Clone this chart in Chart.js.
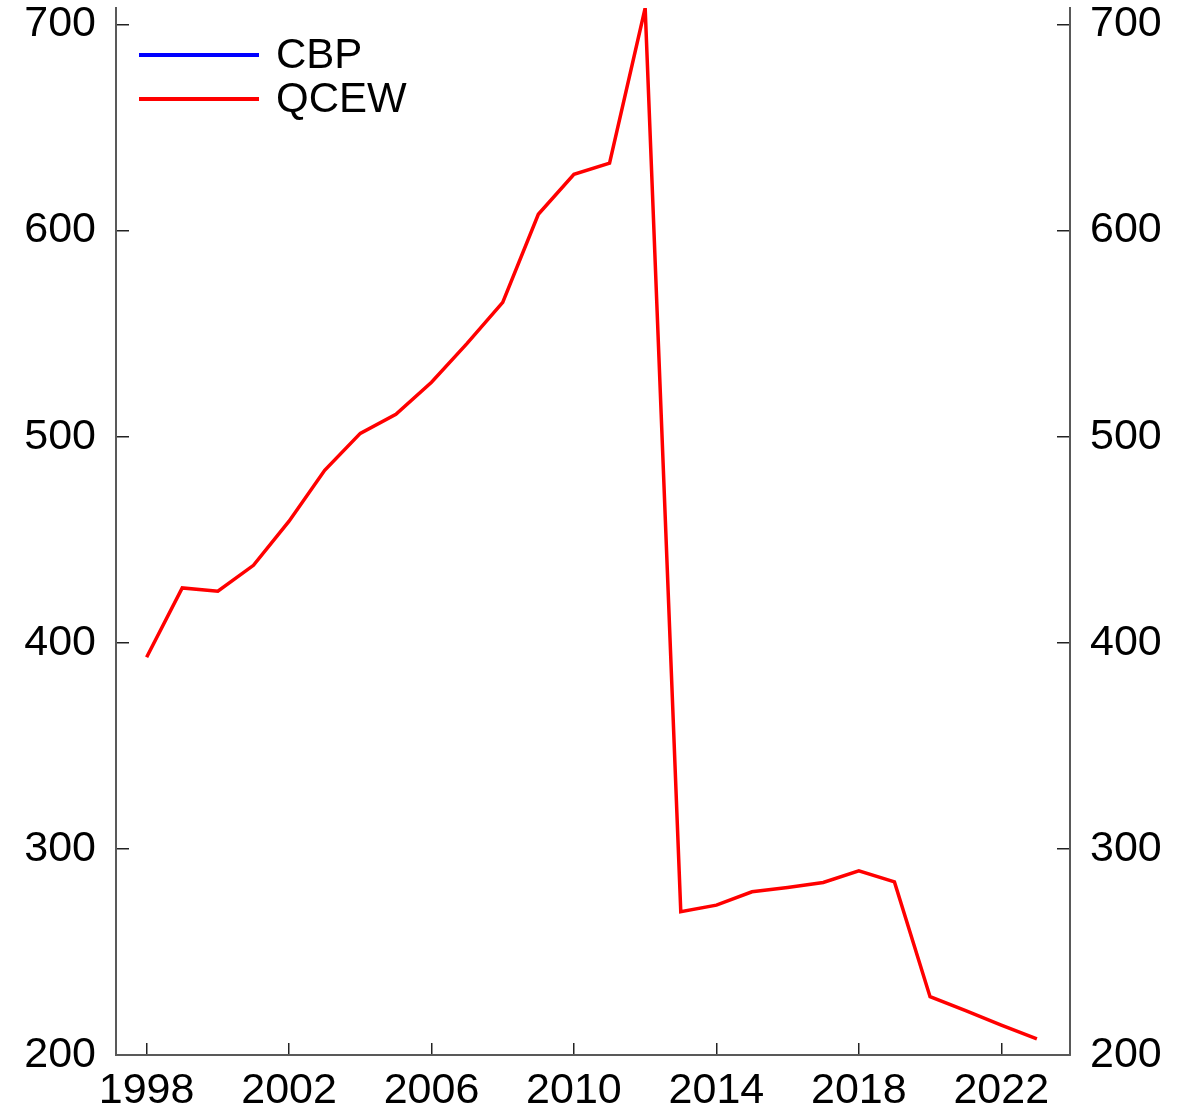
<!DOCTYPE html>
<html>
<head>
<meta charset="utf-8">
<script src="https://cdn.jsdelivr.net/npm/chart.js@4.4.1/dist/chart.umd.min.js"></script>
<style>
  html, body { margin: 0; padding: 0; background: #fff; }
  #wrap { width: 1191px; height: 1116px; }
</style>
</head>
<body>
<div id="wrap"><canvas id="chart" width="1191" height="1116"></canvas></div>
<script>
// years and values
const years = [1998, 1999, 2000, 2001, 2002, 2003, 2004, 2005, 2006, 2007, 2008, 2009, 2010,
               2011, 2012, 2013, 2014, 2015, 2016, 2017, 2018, 2019, 2020, 2021, 2022, 2023];
const qcew = [393, 426.6, 425, 437.6, 459, 483.7, 501.6, 510.9, 526.4, 545.3, 565.2, 607.9, 627.3,
              632.7, 708, 269.5, 272.7, 279.2, 281.3, 283.7, 289.4, 284, 228.3, 221.5, 214.5, 207.8];
// CBP is in the legend but no line shows in the picture
const cbp = years.map(() => null);
const xTicks = [1998, 2002, 2006, 2010, 2014, 2018, 2022];
const yTicks = [200, 300, 400, 500, 600, 700];

const toPoints = vals => years.map((y, i) => ({ x: y, y: vals[i] }));

const fontFamily = "'Liberation Sans', Arial, sans-serif";
const axisColor = '#595959';

function yAxis(position, width) {
    return {
        type: 'linear',
        position: position,
        min: 200,
        max: 708,
        afterBuildTicks: scale => { scale.ticks = yTicks.map(v => ({ value: v })); },
        afterFit: scale => {
            scale.width = width;
            // let the plot reach the top, the labels may stick out
            scale.paddingTop = 0;
            scale.paddingBottom = 0;
        },
        border: { display: true, color: axisColor, width: 2 },
        grid: { drawOnChartArea: false, drawTicks: true, tickLength: -13, color: '#222', lineWidth: 1.5 },
        ticks: { color: '#000', font: { family: fontFamily, size: 43 }, padding: 33 }
    };
}

// legend in the top-left corner of the plot, lines then labels
const cornerLegend = {
    id: 'cornerLegend',
    afterDraw(chart) {
        const ctx = chart.ctx;
        const area = chart.chartArea;
        ctx.save();
        ctx.font = '42px ' + fontFamily;
        ctx.textBaseline = 'middle';
        ctx.fillStyle = '#000';
        chart.data.datasets.forEach((ds, i) => {
            const y = area.top + 47 + i * 44;
            ctx.strokeStyle = ds.borderColor;
            ctx.lineWidth = 4;
            ctx.beginPath();
            ctx.moveTo(area.left + 23, y);
            ctx.lineTo(area.left + 143, y);
            ctx.stroke();
            ctx.fillText(ds.label, area.left + 160, y + 1);
        });
        ctx.restore();
    }
};

new Chart(document.getElementById('chart'), {
    type: 'line',
    data: {
        datasets: [
            { label: 'CBP', data: toPoints(cbp), borderColor: '#0000ff', backgroundColor: '#0000ff',
              borderWidth: 3.5, pointRadius: 0, yAxisID: 'y' },
            { label: 'QCEW', data: toPoints(qcew), borderColor: '#ff0000', backgroundColor: '#ff0000',
              borderWidth: 3.5, pointRadius: 0, yAxisID: 'y' }
        ]
    },
    options: {
        responsive: false,
        devicePixelRatio: 1,
        animation: false,
        layout: { padding: { top: 8, left: 0, right: 0, bottom: 0 } },
        scales: {
            x: {
                type: 'linear',
                min: 1997.14,
                max: 2023.93,
                afterBuildTicks: scale => { scale.ticks = xTicks.map(v => ({ value: v })); },
                afterFit: scale => { scale.height = 61; },
                border: { display: true, color: axisColor, width: 2 },
                grid: { drawOnChartArea: false, drawTicks: true, tickLength: -12, color: '#222', lineWidth: 1.5 },
                ticks: { color: '#000', font: { family: fontFamily, size: 43 }, padding: 22,
                         maxRotation: 0, callback: v => String(v) }
            },
            y: yAxis('left', 116),
            y2: yAxis('right', 121)
        },
        plugins: {
            tooltip: { enabled: false },
            legend: { display: false }
        }
    },
    plugins: [cornerLegend]
});
</script>
</body>
</html>
